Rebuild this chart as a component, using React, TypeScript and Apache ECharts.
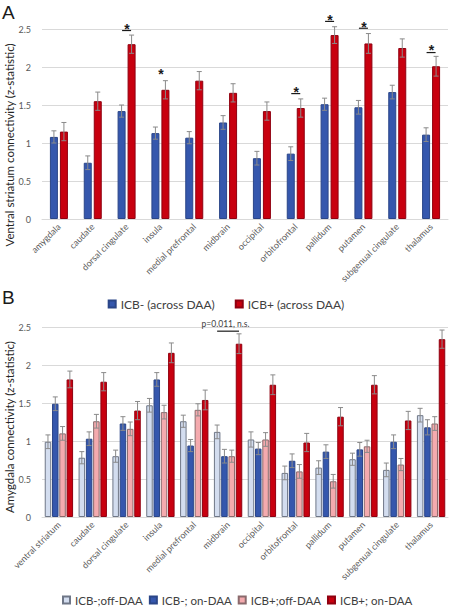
import React, { useEffect, useRef } from 'react';
import * as echarts from 'echarts';

// ---------- Panel A data ----------
const categoriesA = ['amygdala', 'caudate', 'dorsal cingulate', 'insula', 'medial prefrontal', 'midbrain', 'occipital', 'orbitofrontal', 'pallidum', 'putamen', 'subgenual cingulate', 'thalamus'];
const icbMinusA = [1.08, 0.74, 1.42, 1.13, 1.07, 1.27, 0.80, 0.86, 1.51, 1.47, 1.67, 1.11];
const icbPlusA = [1.15, 1.55, 2.30, 1.70, 1.82, 1.66, 1.42, 1.46, 2.42, 2.31, 2.25, 2.01];
const icbMinusAErr = [0.08, 0.09, 0.08, 0.08, 0.08, 0.09, 0.09, 0.09, 0.08, 0.09, 0.09, 0.09];
const icbPlusAErr = [0.12, 0.12, 0.12, 0.12, 0.12, 0.12, 0.12, 0.12, 0.11, 0.13, 0.12, 0.13];
const legendA = ['ICB- (across DAA)', 'ICB+ (across DAA)'];

const sigCatsA = [2, 3, 7, 8, 9, 11];
const sigStarYA = [2.54, 1.95, 1.71, 2.66, 2.57, 2.26];
const sigLineYA = [2.48, null, 1.65, 2.60, 2.51, 2.19];

// ---------- Panel B data ----------
const categoriesB = ['ventral striatum', 'caudate', 'dorsal cingulate', 'insula', 'medial prefrontal', 'midbrain', 'occipital', 'orbitofrontal', 'pallidum', 'putamen', 'subgenual cingulate', 'thalamus'];
const minusOffB = [0.99, 0.78, 0.80, 1.47, 1.26, 1.12, 1.02, 0.58, 0.65, 0.76, 0.62, 1.34];
const minusOnB = [1.49, 1.03, 1.23, 1.81, 0.94, 0.80, 0.90, 0.74, 0.86, 0.89, 0.99, 1.18];
const plusOffB = [1.10, 1.26, 1.16, 1.38, 1.41, 0.80, 1.02, 0.60, 0.47, 0.93, 0.69, 1.23];
const plusOnB = [1.81, 1.78, 1.40, 2.16, 1.54, 2.28, 1.74, 0.98, 1.32, 1.74, 1.27, 2.34];
const minusOffBErr = [0.09, 0.08, 0.08, 0.09, 0.08, 0.09, 0.10, 0.09, 0.09, 0.08, 0.09, 0.09];
const minusOnBErr = [0.09, 0.09, 0.09, 0.09, 0.08, 0.09, 0.08, 0.09, 0.09, 0.09, 0.09, 0.10];
const plusOffBErr = [0.09, 0.09, 0.09, 0.09, 0.08, 0.08, 0.09, 0.09, 0.09, 0.08, 0.08, 0.09];
const plusOnBErr = [0.11, 0.12, 0.12, 0.13, 0.13, 0.13, 0.13, 0.12, 0.12, 0.12, 0.12, 0.12];
const legendB = ['ICB-;off-DAA', 'ICB-; on-DAA', 'ICB+;off-DAA', 'ICB+; on-DAA'];

const pNoteCat = 5;
const pNoteText = 'p=0.011, n.s.';
const pNoteTextY = 2.545;
const pNoteLineY = 2.445;

const yTicks = [0, 0.5, 1, 1.5, 2, 2.5];

// ---------- styling ----------
const FONT = 'Lato, "Open Sans", sans-serif';
const C_BLUE = '#3557ad';
const C_RED = '#c8000f';
const C_LBLUE = '#d3ddef';
const C_PINK = '#f4aaae';
const C_GRID = '#d9d9d9';
const C_TXT = '#595959';
const C_ERR = '#8a8a8a';

const A_BW = 8, A_GAP = 2;
const B_BW = 6.5, B_GAP = 0.8;

function errSeries(vals: number[], errs: number[], offset: number, axis: number) {
  return {
    type: 'custom',
    xAxisIndex: axis,
    yAxisIndex: axis,
    silent: true,
    z: 10,
    renderItem: (params: any, api: any) => {
      const c = api.value(0), v = api.value(1), e = api.value(2);
      const top = api.coord([c, v + e]);
      const bot = api.coord([c, v - e]);
      const x = top[0] + offset;
      const st = { stroke: C_ERR, lineWidth: 1 };
      return {
        type: 'group',
        children: [
          { type: 'line', shape: { x1: x, y1: top[1], x2: x, y2: bot[1] }, style: st },
          { type: 'line', shape: { x1: x - 2.5, y1: top[1], x2: x + 2.5, y2: top[1] }, style: st },
          { type: 'line', shape: { x1: x - 2.5, y1: bot[1], x2: x + 2.5, y2: bot[1] }, style: st },
        ],
      };
    },
    data: vals.map((v, i) => [i, v, errs[i]]),
  };
}

function barSeries(name: string, vals: number[], color: string, border: string, bw: number, gapPct: string, axis: number) {
  return {
    name,
    type: 'bar',
    xAxisIndex: axis,
    yAxisIndex: axis,
    barWidth: bw,
    barGap: gapPct,
    itemStyle: { color, borderColor: border, borderWidth: 1 },
    data: vals,
  };
}

export default function App() {
  const ref = useRef<HTMLDivElement>(null);
  useEffect(() => {
    if (!ref.current) return;
    const chart = echarts.init(ref.current, undefined, { renderer: 'svg' });

    const xAxisBase = (cats: string[], idx: number) => ({
      type: 'category',
      gridIndex: idx,
      data: cats,
      axisTick: { show: false },
      axisLine: { lineStyle: { color: C_GRID, width: 1 } },
      axisLabel: { rotate: 45, interval: 0, fontSize: 9, color: C_TXT, fontFamily: FONT, margin: 6 },
    });
    const yAxisBase = (idx: number) => ({
      type: 'value',
      gridIndex: idx,
      min: yTicks[0],
      max: yTicks[yTicks.length - 1],
      interval: 0.5,
      axisLine: { show: false },
      axisTick: { show: false },
      splitLine: { lineStyle: { color: C_GRID, width: 1 } },
      axisLabel: { fontSize: 9, color: C_TXT, fontFamily: FONT, margin: 11 },
    });

    const aOff = (A_BW + A_GAP) / 2;
    const bPitch = B_BW + B_GAP;

    const sigSeries = {
      type: 'custom',
      xAxisIndex: 0,
      yAxisIndex: 0,
      silent: true,
      z: 12,
      renderItem: (params: any, api: any) => {
        const c = api.value(0);
        const sy = api.value(1);
        const ly = api.value(2);
        const sp = api.coord([c, sy]);
        const children: any[] = [
          {
            type: 'text',
            style: { text: '*', x: sp[0] + 0.5, y: sp[1] + 3, fontSize: 14, fontWeight: 'bold', fill: '#1a1a1a', fontFamily: 'Liberation Sans, Arial', align: 'center', verticalAlign: 'middle' },
          },
        ];
        if (!isNaN(ly)) {
          const lp = api.coord([c, ly]);
          children.push({ type: 'line', shape: { x1: sp[0] - 4.5, y1: lp[1], x2: sp[0] + 4.5, y2: lp[1] }, style: { stroke: '#1a1a1a', lineWidth: 1.2 } });
        }
        return { type: 'group', children };
      },
      data: sigCatsA.map((c, i) => [c, sigStarYA[i], sigLineYA[i] === null ? NaN : sigLineYA[i]]),
    };

    const pSeries = {
      type: 'custom',
      xAxisIndex: 1,
      yAxisIndex: 1,
      silent: true,
      z: 12,
      renderItem: (params: any, api: any) => {
        const c = api.value(0);
        const tp = api.coord([c, api.value(1)]);
        const lp = api.coord([c, api.value(2)]);
        return {
          type: 'group',
          children: [
            { type: 'text', style: { text: pNoteText, x: tp[0] - 2.5, y: tp[1], fontSize: 8.5, fill: '#404040', fontFamily: FONT, align: 'center', verticalAlign: 'middle' } },
            { type: 'line', shape: { x1: lp[0] - 1.5 * bPitch, y1: lp[1], x2: lp[0] + 1.5 * bPitch, y2: lp[1] }, style: { stroke: '#1a1a1a', lineWidth: 1.2 } },
          ],
        };
      },
      data: [[pNoteCat, pNoteTextY, pNoteLineY]],
    };

    chart.setOption({
      animation: false,
      textStyle: { fontFamily: FONT },
      grid: [
        { left: 42, top: 29, width: 406, height: 190 },
        { left: 42, top: 327, width: 406, height: 190 },
      ],
      xAxis: [xAxisBase(categoriesA, 0), xAxisBase(categoriesB, 1)],
      yAxis: [yAxisBase(0), yAxisBase(1)],
      legend: [
        {
          data: legendA,
          top: 298,
          left: 'center',
          padding: 0,
          icon: 'rect',
          itemWidth: 7,
          itemHeight: 7,
          itemGap: 20,
          textStyle: { fontSize: 12, color: '#404040', fontFamily: FONT },
        },
        {
          data: legendB,
          top: 594,
          left: 232 - 170,
          padding: 0,
          icon: 'rect',
          itemWidth: 7,
          itemHeight: 7,
          itemGap: 6,
          textStyle: { fontSize: 11.5, color: '#404040', fontFamily: FONT },
        },
      ],
      graphic: [
        { type: 'text', left: 2, top: 3, style: { text: 'A', fontSize: 19, fill: '#1a1a1a', fontFamily: 'Liberation Sans, Arial' } },
        { type: 'text', left: 2, top: 288, style: { text: 'B', fontSize: 19, fill: '#1a1a1a', fontFamily: 'Liberation Sans, Arial' } },
        {
          type: 'text', x: 9, y: 145, rotation: Math.PI / 2,
          style: { text: 'Ventral striatum connectivity (z-statistic)', fontSize: 11.5, fill: '#262626', fontFamily: FONT, align: 'center', verticalAlign: 'middle' },
        },
        {
          type: 'text', x: 9, y: 427, rotation: Math.PI / 2,
          style: { text: 'Amygdala connectivity (z-statistic)', fontSize: 11.5, fill: '#262626', fontFamily: FONT, align: 'center', verticalAlign: 'middle' },
        },
      ],
      series: [
        barSeries(legendA[0], icbMinusA, C_BLUE, '#2b4688', A_BW, '25%', 0),
        barSeries(legendA[1], icbPlusA, C_RED, '#8f0010', A_BW, '25%', 0),
        errSeries(icbMinusA, icbMinusAErr, -aOff, 0),
        errSeries(icbPlusA, icbPlusAErr, aOff, 0),
        sigSeries,
        barSeries(legendB[0], minusOffB, C_LBLUE, '#6f7787', B_BW, '12%', 1),
        barSeries(legendB[1], minusOnB, C_BLUE, '#2b4688', B_BW, '12%', 1),
        barSeries(legendB[2], plusOffB, C_PINK, '#8a6a6c', B_BW, '12%', 1),
        barSeries(legendB[3], plusOnB, C_RED, '#8f0010', B_BW, '12%', 1),
        errSeries(minusOffB, minusOffBErr, -1.5 * bPitch, 1),
        errSeries(minusOnB, minusOnBErr, -0.5 * bPitch, 1),
        errSeries(plusOffB, plusOffBErr, 0.5 * bPitch, 1),
        errSeries(plusOnB, plusOnBErr, 1.5 * bPitch, 1),
        pSeries,
      ],
    });
    return () => chart.dispose();
  }, []);
  return <div ref={ref} style={{ position: 'fixed', left: 0, top: 0, width: 452, height: 610, background: '#fff' }} />;
}
